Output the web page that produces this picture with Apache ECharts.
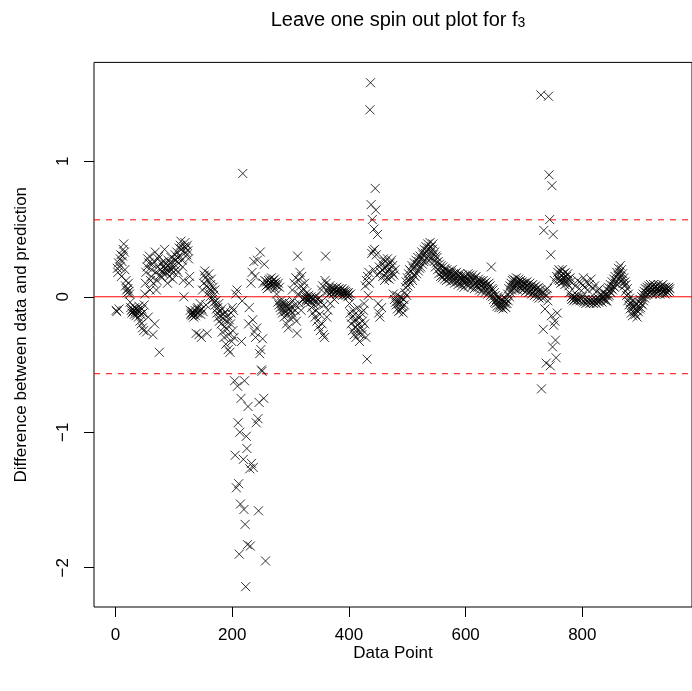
<!DOCTYPE html>
<html>
<head>
<meta charset="utf-8">
<script src="https://cdn.jsdelivr.net/npm/echarts@6/dist/echarts.min.js"></script>
<style>
  html, body { margin: 0; padding: 0; background: #fff; }
  #chart { width: 692px; height: 691px; }
</style>
</head>
<body>
<div id="chart"></div>
<script>
// leave-one-out differences, one value per data point (x = 1..950)
const seg1 = [
  -0.10, -0.11, 0.21, 0.18, 0.25, -0.09, 0.22, 0.28, 0.31, 0.15,
  0.26, 0.30, 0.35, 0.39, 0.33, 0.20, 0.08, 0.12, 0.05, 0.03,
  0.06, 0.10, 0.04, 0.02, -0.04, -0.08, -0.10, -0.12, -0.09, -0.11,
  -0.10, -0.13, -0.08, -0.11, -0.14, -0.09, -0.12, -0.10, -0.15, -0.07,
  -0.11, -0.18, -0.13, -0.20, -0.09, -0.23, -0.12, -0.25, -0.06, 0.02,
  0.10, 0.18, -0.26, 0.22, 0.28, -0.15, 0.25, 0.30, 0.05, 0.12,
  0.15, 0.20, 0.24, -0.28, 0.10, 0.26, -0.20, 0.33, 0.18, 0.05,
  0.12, 0.22, 0.28, 0.30, -0.41, 0.16, 0.20, 0.25, 0.14, 0.19,
  0.22, 0.17, 0.26, 0.35, 0.21, 0.24, 0.18, 0.20, 0.10, 0.27,
  0.23, 0.15, 0.19, 0.25, 0.29, 0.20, 0.22, 0.13, 0.18, 0.28
];
const seg2 = [
  0.24, 0.31, 0.27, 0.20, 0.33, 0.29, 0.18, 0.25, 0.36, 0.30,
  0.38, 0.41, 0.35, 0.27, 0.22, 0.12, 0.00, 0.37, 0.40, 0.33,
  0.36, 0.31, 0.38, 0.34, 0.28, 0.10, 0.15, -0.10, -0.13, -0.12,
  -0.14, -0.11, -0.13, -0.15, -0.12, -0.10, -0.14, -0.27, -0.12, -0.09,
  -0.08, -0.12, -0.28, -0.10, -0.05, -0.13, -0.30, -0.09, 0.05, -0.11,
  0.10, 0.16, 0.19, 0.14, -0.06, 0.08, -0.27, 0.12, 0.03, 0.17,
  0.06, 0.00, 0.09, 0.13, 0.04, -0.02, 0.07, 0.01, -0.04, 0.05,
  -0.06, -0.03, -0.09, -0.12, -0.08, -0.15, -0.05, -0.18, -0.11, -0.14,
  -0.20, -0.09, -0.26, -0.16, -0.13, -0.30, -0.22, -0.11, -0.35, -0.18,
  -0.24, -0.14, -0.39, -0.28, -0.17, -0.41, -0.20, -0.12, -0.33, -0.08
];
const seg3 = [
  -0.25, -0.10, -0.30, -0.62, -1.17, 0.02, -1.41, 0.05, -0.66, -0.93,
  -1.38, -1.90, -1.00, -1.53, -0.75, -0.33, -0.03, 0.91, -1.20, -1.57,
  -0.62, -1.68, -2.14, -1.03, -1.12, -1.83, -0.81, -0.20, -0.08, -1.27,
  -1.84, 0.10, -1.23, 0.18, -0.17, -1.26, 0.26, -0.26, 0.15, -0.30,
  -0.93, -0.23, 0.27, -0.90, -1.58, -0.78, -0.42, 0.33, -0.39, -0.54,
  -0.55, -0.31, 0.10, -0.75, 0.24, 0.12, -1.95, 0.08, 0.11, 0.06,
  0.09, 0.12, 0.07, 0.13, 0.10, 0.08, 0.14, 0.11, 0.09, 0.12,
  0.10, 0.13, 0.06, 0.09, 0.11, 0.02, 0.08, -0.04, 0.10, -0.06,
  0.07, -0.08, -0.03, -0.10, -0.05, -0.12, -0.07, -0.09, -0.15, -0.04,
  -0.11, -0.06, -0.20, -0.08, -0.13, -0.23, -0.09, -0.05, -0.16, -0.10
];
const seg4 = [
  -0.08, -0.12, 0.05, -0.03, -0.15, 0.10, -0.06, -0.10, 0.14, -0.18,
  -0.27, 0.30, 0.02, 0.12, -0.05, 0.18, 0.08, -0.10, 0.15, 0.04,
  -0.02, 0.06, -0.01, 0.10, -0.04, 0.00, -0.02, 0.03, -0.01, -0.03,
  0.01, -0.02, -0.01, -0.04, 0.00, -0.08, -0.02, -0.12, -0.01, -0.06,
  -0.03, -0.15, 0.00, -0.10, -0.18, -0.02, -0.05, -0.22, -0.01, -0.13,
  -0.25, -0.04, 0.05, -0.20, 0.08, -0.28, -0.06, -0.30, 0.12, 0.30,
  0.10, -0.15, 0.04, -0.10, 0.06, 0.02, 0.08, -0.05, 0.03, 0.05,
  0.04, 0.07, 0.02, 0.05, -0.02, 0.06, 0.03, 0.04, 0.07, 0.02,
  0.05, 0.03, 0.06, 0.04, 0.02, 0.05, 0.03, 0.06, 0.01, 0.04,
  0.03, 0.05, 0.02, 0.04, 0.01, 0.03, 0.02, 0.00, 0.03, 0.01
];
const seg5 = [
  -0.05, -0.12, 0.02, -0.20, -0.15, -0.25, -0.10, -0.18, -0.28, -0.13,
  -0.22, -0.30, -0.17, -0.24, -0.08, -0.27, -0.20, -0.33, -0.15, -0.23,
  -0.12, -0.28, -0.18, -0.25, -0.10, -0.05, -0.20, 0.08, -0.30, 0.12,
  -0.46, 0.15, 0.01, 0.18, 0.10, 1.38, 1.58, 0.68, 0.32, 0.57,
  0.34, 0.20, 0.50, 0.35, 0.80, 0.64, 0.31, 0.16, 0.46, -0.05,
  -0.12, 0.22, -0.15, 0.18, 0.25, -0.08, 0.20, 0.15, 0.28, 0.21,
  0.12, 0.26, 0.17, 0.22, 0.14, 0.28, 0.19, 0.24, 0.13, 0.21,
  0.25, 0.15, 0.27, 0.18, 0.23, 0.02, 0.16, -0.02, 0.20, -0.04,
  -0.06, 0.01, -0.09, -0.03, -0.11, -0.05, 0.00, -0.10, -0.04, -0.08,
  -0.01, -0.07, -0.12, -0.02, -0.06, 0.03, 0.07, 0.11, 0.01, 0.14
];
const seg6 = [
  0.08, 0.17, 0.12, 0.20, 0.10, 0.19, 0.14, 0.23, 0.12, 0.21,
  0.16, 0.25, 0.15, 0.22, 0.27, 0.17, 0.24, 0.29, 0.19, 0.26,
  0.21, 0.30, 0.22, 0.28, 0.33, 0.24, 0.31, 0.26, 0.35, 0.27,
  0.32, 0.37, 0.28, 0.34, 0.39, 0.30, 0.36, 0.27, 0.40, 0.33,
  0.37, 0.29, 0.35, 0.39, 0.31, 0.26, 0.33, 0.22, 0.30, 0.25,
  0.29, 0.20, 0.26, 0.17, 0.24, 0.21, 0.15, 0.23, 0.18, 0.14,
  0.22, 0.16, 0.19, 0.13, 0.21, 0.17, 0.12, 0.20, 0.15, 0.18,
  0.13, 0.19, 0.16, 0.11, 0.18, 0.14, 0.20, 0.12, 0.17, 0.15,
  0.10, 0.17, 0.13, 0.18, 0.11, 0.16, 0.09, 0.15, 0.12, 0.17,
  0.10, 0.14, 0.08, 0.16, 0.11, 0.13, 0.07, 0.15, 0.10, 0.12
];
const seg7 = [
  0.15, 0.09, 0.13, 0.17, 0.08, 0.12, 0.16, 0.10, 0.14, 0.07,
  0.13, 0.16, 0.09, 0.12, 0.06, 0.14, 0.10, 0.15, 0.08, 0.11,
  0.07, 0.13, 0.10, 0.05, 0.12, 0.08, 0.11, 0.04, 0.09, 0.12,
  0.06, 0.10, 0.03, 0.08, 0.11, 0.05, 0.09, 0.02, 0.07, 0.10,
  0.04, 0.08, 0.01, 0.22, 0.06, 0.00, 0.05, -0.02, 0.03, -0.04,
  0.01, -0.05, -0.02, -0.07, 0.00, -0.04, -0.08, -0.01, -0.06, -0.03,
  -0.08, -0.02, -0.06, -0.09, -0.03, -0.07, -0.01, -0.05, -0.08, -0.02,
  -0.05, 0.02, -0.03, 0.06, 0.00, 0.08, 0.03, 0.10, 0.05, 0.12,
  0.07, 0.13, 0.09, 0.06, 0.12, 0.08, 0.14, 0.10, 0.05, 0.11,
  0.13, 0.07, 0.10, 0.12, 0.06, 0.09, 0.11, 0.05, 0.08, 0.10
];
const seg8 = [
  0.06, 0.10, 0.04, 0.08, 0.11, 0.05, 0.09, 0.03, 0.07, 0.10,
  0.04, 0.08, 0.02, 0.06, 0.09, 0.03, 0.07, 0.01, 0.05, 0.08,
  0.02, 0.06, 0.00, 0.04, 0.07, -0.01, 0.03, 0.05, 1.49, -0.68,
  0.03, -0.01, -0.24, 0.49, 0.02, -0.09, 0.05, -0.49, 0.01, 0.06,
  -0.03, 1.48, 0.90, 0.57, -0.51, 0.31, -0.14, 0.82, -0.37, 0.46,
  -0.21, 0.12, -0.18, -0.32, -0.45, 0.15, -0.12, 0.18, 0.13, 0.20,
  0.12, 0.19, 0.10, 0.16, 0.13, 0.20, 0.11, 0.17, 0.14, 0.09,
  0.18, 0.12, 0.15, 0.10, 0.17, 0.13, 0.08, 0.03, 0.14, 0.11,
  0.00, -0.02, 0.01, -0.01, -0.03, 0.00, -0.02, 0.08, -0.01, -0.03,
  0.01, 0.12, -0.02, 0.00, 0.06, -0.03, -0.01, 0.10, -0.02, 0.00
];
const seg9 = [
  -0.03, 0.14, -0.04, 0.07, -0.02, -0.05, 0.11, -0.03, 0.05, -0.04,
  -0.02, 0.09, -0.05, -0.03, 0.13, -0.04, -0.02, 0.06, -0.05, -0.03,
  0.08, -0.04, -0.02, -0.05, 0.04, -0.03, -0.01, -0.04, 0.06, -0.02,
  -0.03, 0.02, -0.01, -0.04, 0.00, -0.02, 0.03, -0.01, 0.01, -0.03,
  0.02, -0.03, 0.05, 0.00, 0.07, 0.01, 0.04, 0.09, 0.03, 0.06,
  0.11, 0.05, 0.08, 0.13, 0.07, 0.15, 0.10, 0.12, 0.18, 0.09,
  0.16, 0.21, 0.13, 0.18, 0.23, 0.15, 0.20, 0.12, 0.17, 0.10,
  0.14, 0.08, 0.11, 0.04, 0.09, 0.01, 0.06, -0.03, 0.02, -0.06,
  -0.01, -0.09, -0.04, -0.12, -0.06, -0.14, -0.08, -0.03, -0.11, -0.07,
  -0.13, -0.05, -0.10, -0.15, -0.07, -0.11, -0.04, -0.09, -0.02, -0.08
];
const seg10 = [
  -0.05, 0.00, -0.06, 0.02, -0.03, 0.04, -0.01, 0.06, 0.01, 0.03,
  0.07, 0.02, 0.05, 0.08, 0.03, 0.06, 0.09, 0.04, 0.07, 0.02,
  0.05, 0.09, 0.04, 0.07, 0.02, 0.08, 0.05, 0.03, 0.06, 0.09,
  0.04, 0.07, 0.02, 0.06, 0.08, 0.03, 0.06, 0.09, 0.04, 0.07,
  0.05, 0.02, 0.07, 0.04, 0.06, 0.03, 0.05, 0.07, 0.04, 0.06
];

const xTicks = [0, 200, 400, 600, 800];
const yTicks = [-2, -1, 0, 1];
const bandLimit = 0.568;
const xMin = -37, xMax = 988;

const diffs = [].concat(seg1, seg2, seg3, seg4, seg5, seg6, seg7, seg8, seg9, seg10);
const points = diffs.map((v, i) => [i + 1, v]);

const font = "'Liberation Sans', Arial, Helvetica, sans-serif";
const minus = v => String(v).replace('-', '\u2212');
const red = '#ff0000';

// horizontal reference line across the whole x range
function hline(y, dashed) {
  return {
    type: 'line',
    data: [[xMin, y], [xMax, y]],
    symbol: 'none',
    silent: true,
    z: 1,
    lineStyle: { color: red, width: 1, type: dashed ? [6, 6] : 'solid' },
    itemStyle: { color: red }
  };
}

const chart = echarts.init(document.getElementById('chart'));
chart.setOption({
  animation: false,
  backgroundColor: '#fff',
  textStyle: { fontFamily: font },
  title: {
    text: '{m|Leave one spin out plot for f}{s|3}',
    left: 398,
    top: 6,
    textAlign: 'center',
    padding: 0,
    textStyle: {
      fontWeight: 'normal',
      rich: {
        m: { fontSize: 20, fontFamily: font, fontWeight: 'normal', color: '#000', lineHeight: 24, verticalAlign: 'bottom' },
        s: { fontSize: 14, fontFamily: font, fontWeight: 'normal', color: '#000', lineHeight: 12, verticalAlign: 'bottom' }
      }
    }
  },
  grid: {
    left: 94, top: 62.4, width: 609, height: 544.6,
    show: true, borderColor: '#000', borderWidth: 1, backgroundColor: 'transparent'
  },
  xAxis: {
    type: 'value', min: xMin, max: xMax,
    name: 'Data Point', nameLocation: 'middle', nameGap: 38, nameMoveOverlap: false,
    nameTextStyle: { fontSize: 17, color: '#000', fontFamily: font },
    axisLine: { show: false, onZero: false },
    splitLine: { show: false },
    axisTick: { show: true, length: 10, customValues: xTicks, lineStyle: { color: '#000' } },
    axisLabel: { customValues: xTicks, fontSize: 17, color: '#000', margin: 20, fontFamily: font }
  },
  yAxis: {
    type: 'value', min: -2.29, max: 1.73,
    name: 'Difference between data and prediction', nameLocation: 'middle', nameGap: 64, nameRotate: 90,
    nameMoveOverlap: false,
    nameTextStyle: { fontSize: 17, color: '#000', fontFamily: font },
    axisLine: { show: false, onZero: false },
    splitLine: { show: false },
    axisTick: { show: true, length: 10, customValues: yTicks, lineStyle: { color: '#000' } },
    axisLabel: { customValues: yTicks, fontSize: 17, color: '#000', margin: 22, rotate: 90, fontFamily: font, formatter: minus }
  },
  series: [
    hline(0, false),
    hline(bandLimit, true),
    hline(-bandLimit, true),
    {
      type: 'scatter',
      data: points,
      z: 2,
      symbol: 'path://M0,0L10,10M10,0L0,10',
      symbolSize: 9,
      itemStyle: { color: 'none', borderColor: '#000', borderWidth: 1 },
      emphasis: { disabled: true }
    }
  ]
});
</script>
</body>
</html>
